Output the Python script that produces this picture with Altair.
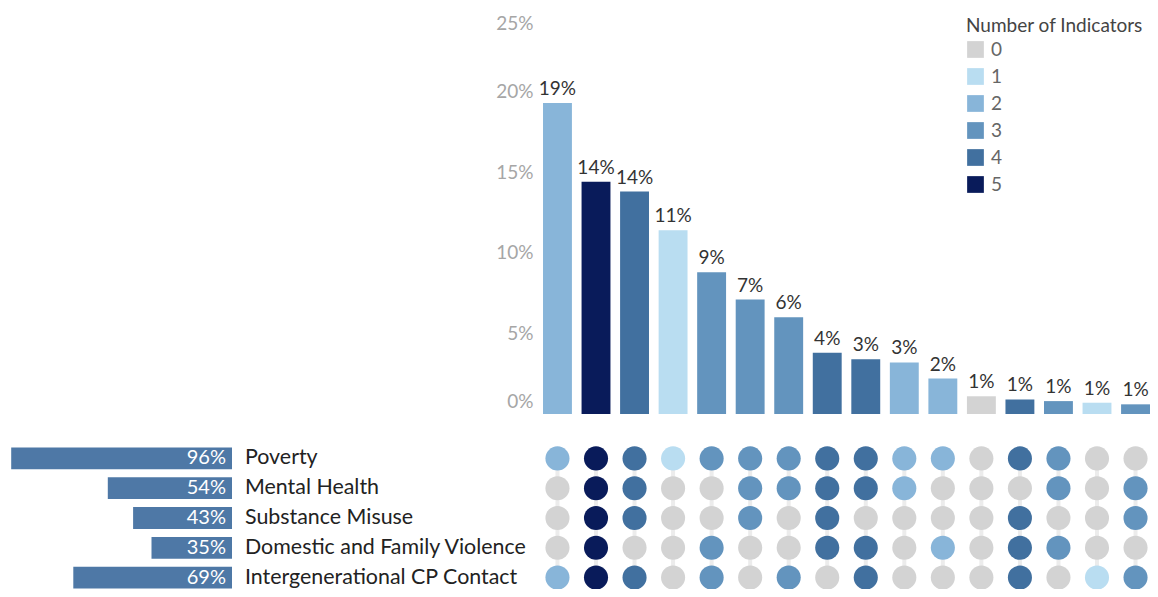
import altair as alt
import pandas as pd

# ---------------- data ----------------
indicators = ["Poverty", "Mental Health", "Substance Misuse",
              "Domestic and Family Violence", "Intergenerational CP Contact"]
indicator_pct = [0.96, 0.54, 0.43, 0.35, 0.69]

combo_ids = [str(i) for i in range(1, 17)]
combo_pct = [0.193, 0.144, 0.138, 0.114, 0.088, 0.071, 0.060, 0.038,
             0.034, 0.032, 0.022, 0.011, 0.009, 0.008, 0.007, 0.006]
# membership per combination: Poverty, Mental Health, Substance Misuse, DFV, Intergenerational CP
combo_members = ["10001", "11111", "11101", "10000", "10011", "11100", "11001", "11110",
                 "11011", "11000", "10010", "00000", "10111", "11010", "00001", "01101"]

count_levels = ["0", "1", "2", "3", "4", "5"]
count_colors = ["#d3d3d3", "#b9ddf1", "#88b5d9", "#6394be", "#41709f", "#091b5a"]

FONT = "Lato"

# ---------------- tables ----------------
bars_df = pd.DataFrame({
    "combo": combo_ids,
    "pct": combo_pct,
    "n": [str(m.count("1")) for m in combo_members],
})

dot_rows = []
for cid, m in zip(combo_ids, combo_members):
    n = str(m.count("1"))
    for ind, bit in zip(indicators, m):
        dot_rows.append({"combo": cid, "indicator": ind, "n": n if bit == "1" else "0"})
dots_df = pd.DataFrame(dot_rows)

rules_df = pd.DataFrame({"combo": combo_ids,
                         "top": [indicators[0]] * len(combo_ids),
                         "bottom": [indicators[-1]] * len(combo_ids)})

left_df = pd.DataFrame({"indicator": indicators, "pct": indicator_pct, "zero": [0] * len(indicators)})

# ---------------- scales ----------------
col_scale = alt.Scale(domain=combo_ids, range=[530.2, 1146.8], paddingInner=0.25,
                      paddingOuter=0.125, round=False)
pct_scale = alt.Scale(domain=[0, 0.25], range=[406, 3])
row_scale = alt.Scale(domain=indicators, range=[435.5, 584.5], paddingInner=0.27,
                      paddingOuter=0.135, round=False)
left_x_scale = alt.Scale(domain=[0, 1], range=[224, -6])
color_scale = alt.Scale(domain=count_levels, range=count_colors)

legend = alt.Legend(title="Number of Indicators", orient="none", legendX=958, legendY=9,
                    symbolType="square", symbolSize=280, symbolStrokeWidth=0,
                    titleFont=FONT, titleFontSize=19, titleFontWeight="normal", titleColor="#444",
                    labelFont=FONT, labelFontSize=19, labelColor="#666",
                    rowPadding=7, titlePadding=4, labelOffset=6)

# ---------------- upper bars ----------------
xb = alt.X("combo:N", scale=col_scale, axis=None, sort=combo_ids)
y_axis = alt.Axis(offset=-525, domain=False, ticks=False, grid=False,
                  values=[0, 0.05, 0.10, 0.15, 0.20, 0.25], format=".0%",
                  labelFlush=True, labelFlushOffset=-3, labelPadding=0,
                  labelFont=FONT, labelFontSize=19, labelColor="#a6a6a6", title=None)
bars = alt.Chart(bars_df).mark_bar().encode(
    x=xb,
    y=alt.Y("pct:Q", scale=pct_scale, axis=y_axis),
    color=alt.Color("n:N", scale=color_scale, legend=legend),
)
bar_text = alt.Chart(bars_df).mark_text(font=FONT, fontSize=19, color="#333", baseline="alphabetic", dy=-8).encode(
    x=xb,
    y=alt.Y("pct:Q", scale=pct_scale, axis=y_axis),
    text=alt.Text("pct:Q", format=".0%"),
)
upper = alt.layer(bars, bar_text)

# ---------------- dot matrix ----------------
rules = alt.Chart(rules_df).mark_rule(color="#ececec", strokeWidth=4).encode(
    x=xb,
    y=alt.Y("top:N", scale=row_scale, axis=None),
    y2="bottom:N",
)
dots = alt.Chart(dots_df).mark_circle(size=580, opacity=1).encode(
    x=xb,
    y=alt.Y("indicator:N", scale=row_scale, axis=None),
    color=alt.Color("n:N", scale=color_scale, legend=legend),
)
matrix = alt.layer(rules, dots)

# ---------------- left bars ----------------
lx = alt.X("pct:Q", scale=left_x_scale, axis=None)
ly = alt.Y("indicator:N", scale=row_scale, axis=None)
left_bars = alt.Chart(left_df).mark_bar(color="#4e78a6").encode(x=lx, x2="zero:Q", y=ly)
left_vals = alt.Chart(left_df).mark_text(font=FONT, fontSize=20, color="white", align="right", dx=-6).encode(
    x=alt.X("zero:Q", scale=left_x_scale, axis=None), y=ly,
    text=alt.Text("pct:Q", format=".0%"),
)
left_names = alt.Chart(left_df).mark_text(font=FONT, fontSize=21.4, color="#222", align="left", dx=13).encode(
    x=alt.X("zero:Q", scale=left_x_scale, axis=None), y=ly,
    text="indicator:N",
)
left = alt.layer(left_bars, left_vals, left_names)

chart = alt.layer(upper, matrix, left).resolve_scale(
    x="independent", y="independent"
).properties(
    width=1142, height=581, padding=0, autosize=alt.AutoSizeParams(type="none")
).configure_view(stroke=None)

chart.save("out.html", embed_options={"renderer": "svg", "actions": False})
